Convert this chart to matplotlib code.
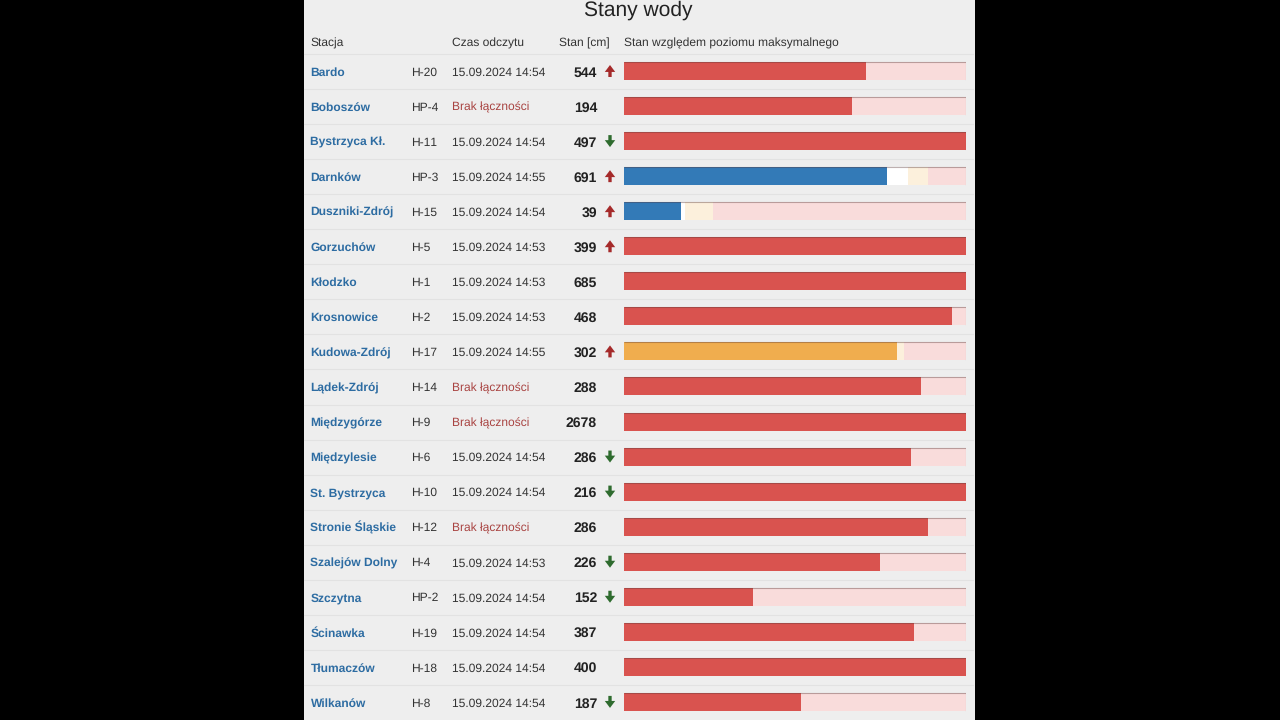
import matplotlib
import matplotlib.pyplot as plt

matplotlib.use('Agg')

plt.rcParams['font.family'] = ['Liberation Sans', 'DejaVu Sans']
plt.rcParams['text.hinting'] = 'no_hinting'
plt.rcParams['text.hinting_factor'] = 1

stations = ['Bardo', 'Boboszów', 'Bystrzyca Kł.', 'Darnków', 'Duszniki-Zdrój', 'Gorzuchów',
            'Kłodzko', 'Krosnowice', 'Kudowa-Zdrój', 'Lądek-Zdrój', 'Międzygórze', 'Międzylesie',
            'St. Bystrzyca', 'Stronie Śląskie', 'Szalejów Dolny', 'Szczytna', 'Ścinawka',
            'Tłumaczów', 'Wilkanów']
codes = ['H-20', 'HP-4', 'H-11', 'HP-3', 'H-15', 'H-5', 'H-1', 'H-2', 'H-17', 'H-14', 'H-9', 'H-6',
         'H-10', 'H-12', 'H-4', 'HP-2', 'H-19', 'H-18', 'H-8']
times = ['15.09.2024 14:54', 'Brak łączności', '15.09.2024 14:54', '15.09.2024 14:55',
         '15.09.2024 14:54', '15.09.2024 14:53', '15.09.2024 14:53', '15.09.2024 14:53',
         '15.09.2024 14:55', 'Brak łączności', 'Brak łączności', '15.09.2024 14:54',
         '15.09.2024 14:54', 'Brak łączności', '15.09.2024 14:53', '15.09.2024 14:54',
         '15.09.2024 14:54', '15.09.2024 14:54', '15.09.2024 14:54']
levels = [544, 194, 497, 691, 39, 399, 685, 468, 302, 288, 2678, 286, 216, 286, 226, 152, 387, 400, 187]
# 1 rising, -1 falling, 0 no arrow
trends = [1, 0, -1, 1, 1, 1, 0, 0, 1, 0, 0, -1, -1, 0, -1, -1, 0, 0, -1]

# bar segments, percent of the maximum level
blue = [0, 0, 0, 77, 16.8, 0, 0, 0, 0, 0, 0, 0, 0, 0, 0, 0, 0, 0, 0]
white = [0, 0, 0, 6.1, 1.2, 0, 0, 0, 0, 0, 0, 0, 0, 0, 0, 0, 0, 0, 0]
orange = [0, 0, 0, 0, 0, 0, 0, 0, 80, 0, 0, 0, 0, 0, 0, 0, 0, 0, 0]
cream = [0, 0, 0, 5.9, 8.2, 0, 0, 0, 2, 0, 0, 0, 0, 0, 0, 0, 0, 0, 0]
red = [70.9, 66.8, 100, 0, 0, 100, 100, 96, 0, 87, 100, 84, 100, 89, 75, 37.9, 85, 100, 52]

segments = [(blue, '#337ab7'), (white, '#ffffff'), (orange, '#f0ad4e'), (cream, '#fcf0dc'), (red, '#d9534f')]

ROW0 = 72
ROW_H = 35.05

fig = plt.figure(figsize=(12.8, 7.2), dpi=100, facecolor='black')

# page layer in pixel coordinates
ax = fig.add_axes([0, 0, 1, 1])
ax.set_xlim(0, 1280)
ax.set_ylim(720, 0)
ax.axis('off')
ax.axvspan(304, 975, color='#eeeeee', lw=0)

ax.text(638.5, 16, 'Stany wody', fontsize=15, color='#222222', ha='center', va='baseline')
for x, label in [(310, 'Stacja'), (452, 'Czas odczytu'), (559, 'Stan [cm]'),
                 (623.5, 'Stan względem poziomu maksymalnego')]:
    ax.text(x, 46.5, label, fontsize=8.6, color='#333333', va='baseline')

for i, name in enumerate(stations):
    y = ROW0 + i * ROW_H
    base = y + 3.7
    ax.plot([304, 973], [y - 18, y - 18], color='#e2e2e2', lw=0.75)
    ax.text(310.5, base, name, fontsize=8.6, fontweight='bold', color='#2d6ca2', va='baseline')
    ax.text(411.5, base, codes[i], fontsize=8.6, color='#333333', va='baseline')
    offline = times[i] == 'Brak łączności'
    ax.text(452.5, base, times[i], fontsize=8.6, color='#a94442' if offline else '#333333', va='baseline')
    ax.text(597, y + 4.5, str(levels[i]), fontsize=10.1, fontweight='bold', color='#222222', ha='right', va='baseline')
    if trends[i]:
        colour = '#a52a2a' if trends[i] > 0 else '#2e6b2e'
        ax.annotate('', xy=(610, y - 1 - trends[i] * 6), xytext=(610, y - 1 + trends[i] * 6),
                    arrowprops=dict(width=2.4, headwidth=7.5, headlength=5, color=colour, lw=0, shrink=0))

# bars, x in percent
bar_ax = fig.add_axes([623.5 / 1280, 0, 342 / 1280, 1])
bar_ax.set_xlim(0, 100)
bar_ax.set_ylim((720 - ROW0 + 1) / ROW_H, -(ROW0 - 1) / ROW_H)
bar_ax.axis('off')
bar_ax.patch.set_alpha(0)

rows = list(range(len(stations)))
bar_ax.barh(rows, [100] * len(rows), height=18 / ROW_H, color='#f9dcdb', lw=0)
left = [0.0] * len(rows)
for values, colour in segments:
    bar_ax.barh(rows, values, left=left, height=18 / ROW_H, color=colour, lw=0)
    left = [a + b for a, b in zip(left, values)]

# thin shadow along the top and right of each track
for i in rows:
    bar_ax.plot([0, 100], [i - 9 / ROW_H, i - 9 / ROW_H], color='#5a3a3a', alpha=0.4, lw=0.8, zorder=1.5, solid_capstyle='butt')
    bar_ax.plot([100, 100], [i - 9 / ROW_H, i + 9 / ROW_H], color='#5a4a4a', alpha=0.25, lw=0.8, zorder=1.5)

fig.savefig('out.png', dpi=100, facecolor='black')
